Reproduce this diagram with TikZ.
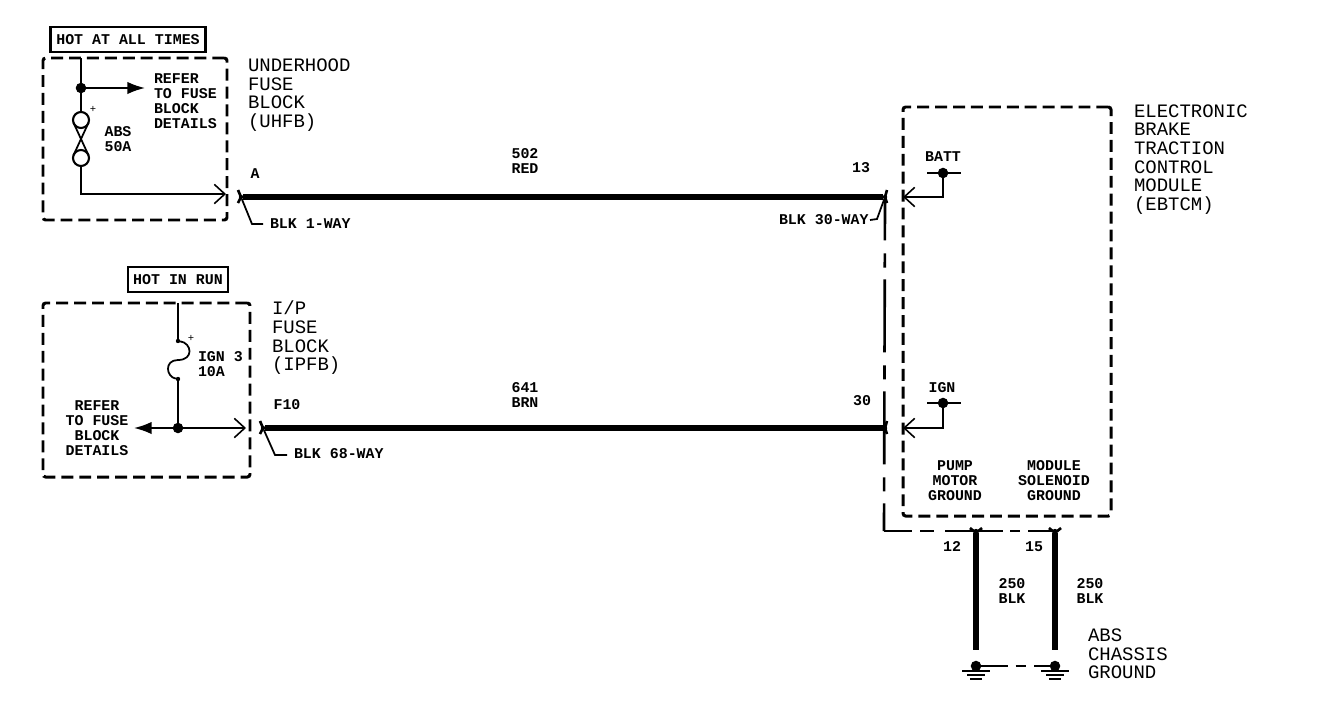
\documentclass[tikz,border=0pt]{standalone}
\usepackage{fontspec}
\usetikzlibrary{arrows.meta}
\newfontfamily\plotfont{Liberation Mono}[Scale=1]
\tikzset{
  every node/.style={inner sep=0pt, outer sep=0pt},
  lbl/.style={font=\plotfont\bfseries\fontsize{8.5}{8.55}\selectfont, align=center},
  lblleft/.style={lbl, align=left, anchor=west},
  title/.style={font=\plotfont\fontsize{10.8}{10.6}\selectfont, align=left, anchor=north west},
  hotbox/.style={draw, line width=1.6pt, minimum height=25*0.02cm, font=\plotfont\bfseries\fontsize{8.5}{9}\selectfont},
  block/.style={draw, dash pattern=on 6.8pt off 3.4pt, line width=1.7pt, rounded corners=1.5pt},
  wire/.style={line width=1pt},
  thick wire/.style={line width=3.8pt},
  shield/.style={line width=1.5pt},
  dot/.style={circle, fill=black, minimum size=6pt},
  pin/.style={circle, fill=black, minimum size=2.5pt},
  opentip/.style={-{Straight Barb[length=6pt, width=11pt, line width=0.9pt]}},
  filledtip/.style={-{Latex[length=10pt, width=7pt]}}
}
\begin{document}
\begin{tikzpicture}[x=0.02cm, y=-0.02cm]
  \useasboundingbox (0,0) rectangle (1328,700);

  % left side, top block
  \node (hotall) at (128,39.5) [hotbox, minimum width=155*0.02cm] {HOT AT ALL TIMES};
  \node (uhfb) at (135,139) [block, minimum width=184*0.02cm, minimum height=162*0.02cm] {};
  \node (uhfbname) at (248,59) [title] {UNDERHOOD\\FUSE\\BLOCK\\ (UHFB)};
  \coordinate (feedtop) at (81,58);
  \node (feedjoin) at (81,88) [dot] {};
  \coordinate (referend) at (145,88);
  \node (referone) at (154,101.5) [lblleft] {REFER\\TO FUSE\\BLOCK\\DETAILS};
  \node (fuseup) at (81,120) [circle, draw, line width=1.2pt, minimum size=16*0.02cm] {};
  \node (fusedown) at (81,158) [circle, draw, line width=1.2pt, minimum size=16*0.02cm] {};
  \node (fusename) at (118,139) [lbl] {ABS\\50A};
  \node (plusone) at (93,109) [font=\plotfont\fontsize{6}{6}\selectfont] {+};
  \coordinate (uhfbout) at (226,194);
  \draw[line width=1.4pt] (feedtop) -- (feedjoin) -- (fuseup);
  \draw[wire, filledtip] (feedjoin) -- (referend);
  \draw[wire] (fuseup.200) -- (fusedown.20);
  \draw[wire] (fuseup.340) -- (fusedown.160);
  \draw[wire, opentip] (fusedown.south) |- (uhfbout);

  % left side, lower block
  \node (hotrun) at (178,279.5) [hotbox, minimum width=100*0.02cm] {HOT IN RUN};
  \node (ipfb) at (146.5,390) [block, minimum width=207*0.02cm, minimum height=174*0.02cm] {};
  \node (ipfbname) at (272,301) [title] {I/P\\FUSE\\BLOCK\\ (IPFB)};
  \coordinate (igntop) at (178,303);
  \node (ignup) at (178,341) [pin] {};
  \node (igndown) at (178,379) [pin] {};
  \node (ignjoin) at (178,428) [dot] {};
  \coordinate (refertwoend) at (134,428);
  \coordinate (ipfbout) at (246,428);
  \node (refertwo) at (97,428.5) [lbl] {REFER\\TO FUSE\\BLOCK\\DETAILS};
  \node (ignname) at (198,364.5) [lblleft] {IGN 3\\10A};
  \node (plustwo) at (191,338) [font=\plotfont\fontsize{6}{6}\selectfont] {+};
  \draw[wire] (igntop) -- (ignup);
  \draw[wire] (ignup) .. controls (192,343) and (194,360) .. (178,360) .. controls (164,360) and (166,377) .. (igndown);
  \draw[wire] (igndown) -- (ignjoin);
  \draw[wire, filledtip] (ignjoin) -- (refertwoend);
  \draw[wire, opentip] (ignjoin) -- (ipfbout);

  % heavy wires
  \node (pina) at (241,197) [pin] {};
  \node (pinb) at (885,197) [pin] {};
  \node (pinf) at (263,428) [pin] {};
  \node (pinc) at (885,428) [pin] {};
  \draw[thick wire] (pina) -- (pinb);
  \draw[thick wire] (pinf) -- (pinc);
  \foreach \p in {pina,pinf} {
    \draw[line width=1.5pt] (\p) ++(-3,-7) -- ++(3,7) -- ++(-3,6);
  }
  \foreach \p in {pinb,pinc} {
    \draw[line width=1.5pt] (\p) ++(2,-7) -- ++(-2,7) -- ++(2,6);
  }
  \node (lbla) at (255,174) [lbl] {A};
  \node (lbltop) at (525,161) [lbl] {502\\RED};
  \node (lbl13) at (861,168) [lbl] {13};
  \node (lblf) at (287,405) [lbl] {F10};
  \node (lbllow) at (525,395) [lbl] {641\\BRN};
  \node (lbl30) at (862,401) [lbl] {30};
  \node (blkone) at (270,224) [lblleft] {BLK 1-WAY};
  \node (blkthirty) at (779,220) [lblleft] {BLK 30-WAY};
  \node (blksixty) at (294,454) [lblleft] {BLK 68-WAY};
  \coordinate (leada) at (263,224);
  \coordinate (leadb) at (870,220);
  \coordinate (leadf) at (287,455);
  \draw[wire] (pina) -- (252,224) -- (leada);
  \draw[wire] (pinb) -- (877,219) -- (leadb);
  \draw[wire] (pinf) -- (275,455) -- (leadf);

  % module
  \node (ebtcm) at (1007,311.5) [block, minimum width=208*0.02cm, minimum height=409*0.02cm] {};
  \node (ebtcmname) at (1134,104.5) [title] {ELECTRONIC\\BRAKE\\TRACTION\\CONTROL\\MODULE\\ (EBTCM)};
  \node (batt) at (943,173) [dot] {};
  \node (ign) at (943,403) [dot] {};
  \node (lblbatt) at (943,157) [lbl] {BATT};
  \node (lblign) at (942,388) [lbl] {IGN};
  \coordinate (battin) at (903,197);
  \coordinate (ignin) at (903,428);
  \draw[wire] (927,173) -- (961,173);
  \draw[wire] (927,403) -- (961,403);
  \draw[line width=1.4pt, opentip] (batt) |- (battin);
  \draw[line width=1.4pt, opentip] (ign) |- (ignin);
  \node (lblpump) at (955,481) [lbl] {PUMP\\MOTOR\\GROUND};
  \node (lblmodule) at (1054,481) [lbl] {MODULE\\SOLENOID\\GROUND};

  % grounds
  \coordinate (bend) at (884,531);
  \node (pintwelve) at (976,531) [pin] {};
  \node (pinfifteen) at (1055,531) [pin] {};
  \draw[shield, dash pattern=on 41.5pt off 7.4pt on 8pt off 6.8pt, dash phase=18pt] (pinb) -- (bend);
  \draw[shield, dash pattern=on 16pt off 4.6pt on 8pt off 6.3pt on 33pt off 4pt on 5.7pt off 4.6pt on 20pt] (bend) -- (pinfifteen);
  \node (gnda) at (976,666) [dot] {};
  \node (gndb) at (1055,666) [dot] {};
  \draw[thick wire] (pintwelve) -- (976,650);
  \draw[thick wire] (pinfifteen) -- (1055,650);
  \foreach \p in {pintwelve,pinfifteen} {
    \draw[line width=1.5pt] (\p) ++(-6,-3) -- ++(6,5) -- ++(6,-5);
  }
  \draw[wire, dash pattern=on 15pt off 4.5pt on 5.7pt off 5pt] (gnda) -- (gndb);
  \foreach \g in {gnda,gndb} {
    \draw[wire] (\g) ++(-14,5) -- ++(28,0);
    \draw[wire] (\g) ++(-9,9) -- ++(18,0);
    \draw[wire] (\g) ++(-6,13) -- ++(12,0);
  }
  \node (lbltwelve) at (952,546) [lbl] {12};
  \node (lblfifteen) at (1034,547) [lbl] {15};
  \node (lblwa) at (1012,591) [lbl] {250\\BLK};
  \node (lblwb) at (1090,591) [lbl] {250\\BLK};
  \node (chassis) at (1088,629) [title] {ABS\\CHASSIS\\GROUND};
\end{tikzpicture}
\end{document}
